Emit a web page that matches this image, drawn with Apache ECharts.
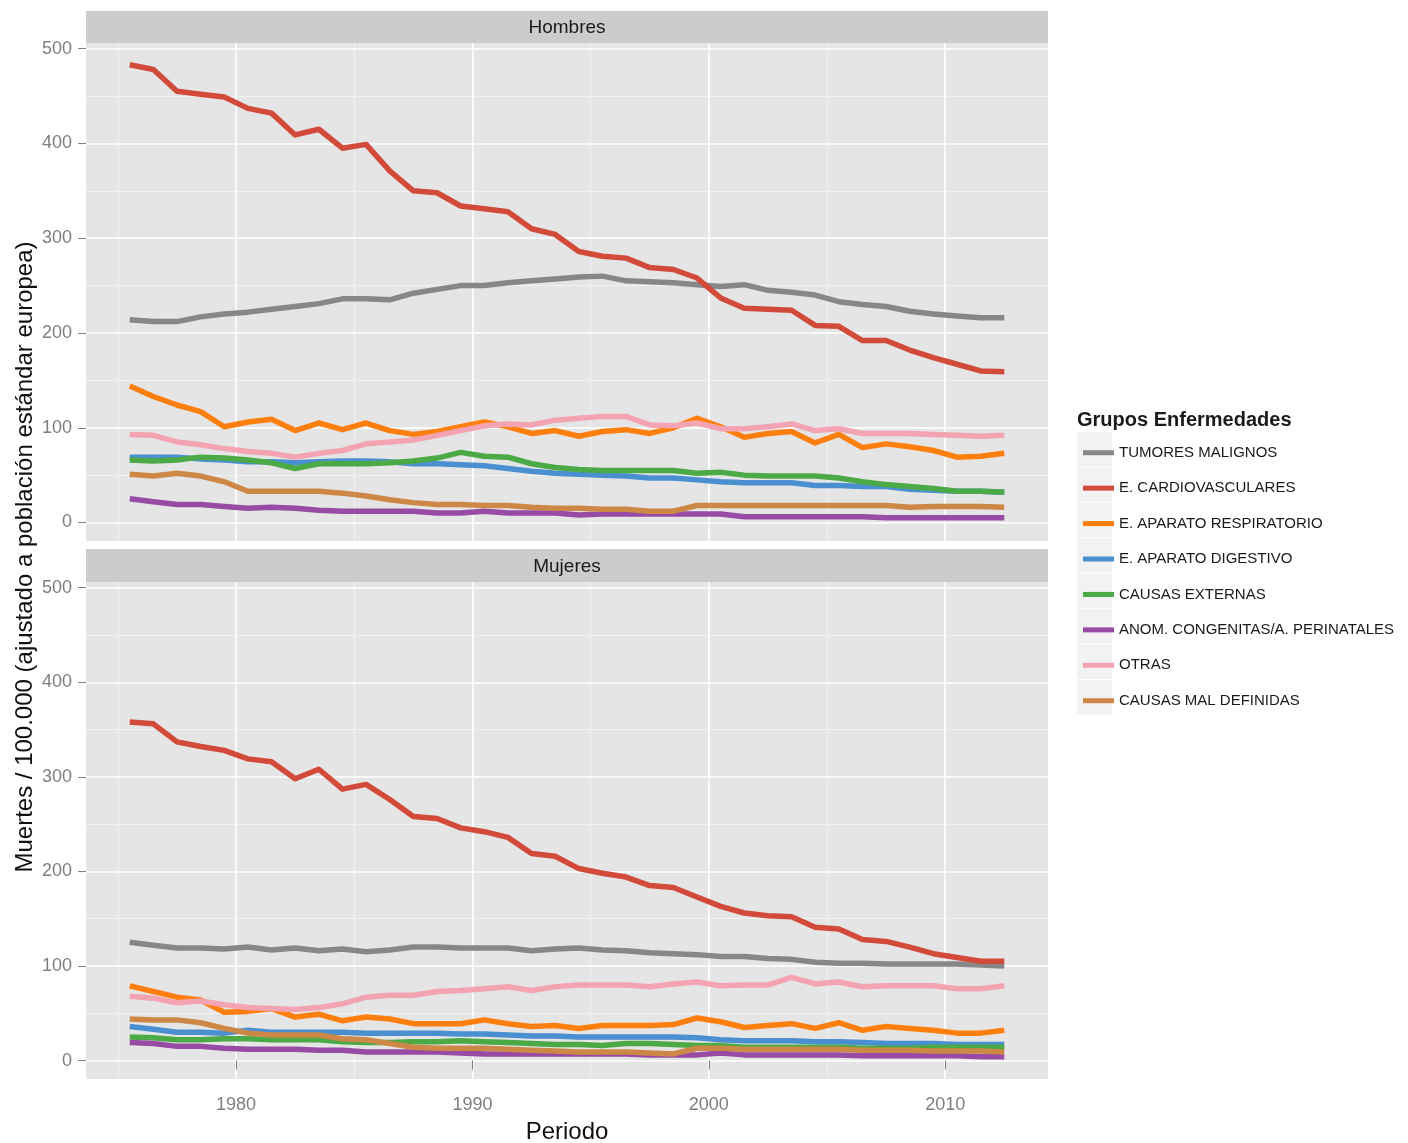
<!DOCTYPE html>
<html>
<head>
<meta charset="utf-8">
<title>Mortalidad por grupos de enfermedades</title>
<script src="https://cdn.jsdelivr.net/npm/echarts@6/dist/echarts.min.js"></script>
<style>
  html, body { margin: 0; padding: 0; background: #ffffff; }
  #chart { width: 1408px; height: 1143px; }
</style>
</head>
<body>
<div id="chart"></div>
<script>
// ---- data -------------------------------------------------------------
const years = [1975,1976,1977,1978,1979,1980,1981,1982,1983,1984,1985,1986,1987,1988,1989,
  1990,1991,1992,1993,1994,1995,1996,1997,1998,1999,2000,2001,2002,2003,2004,2005,2006,
  2007,2008,2009,2010,2011,2012];

const groups = ['TUMORES MALIGNOS', 'E. CARDIOVASCULARES', 'E. APARATO RESPIRATORIO',
  'E. APARATO DIGESTIVO', 'CAUSAS EXTERNAS', 'ANOM. CONGENITAS/A. PERINATALES',
  'OTRAS', 'CAUSAS MAL DEFINIDAS'];

const panels = ['Hombres', 'Mujeres'];

// Hombres
const hTumores = [214,212,212,217,220,222,225,228,231,236,236,235,242,246,250,250,253,255,257,259,260,255,254,253,251,249,251,245,243,240,233,230,228,223,220,218,216,216];
const hCardio = [483,478,455,452,449,437,432,409,415,395,399,371,350,348,334,331,328,310,304,286,281,279,269,267,258,237,226,225,224,208,207,192,192,182,174,167,160,159];
const hRespir = [144,133,124,117,101,106,109,97,105,98,105,97,93,96,101,106,101,94,97,91,96,98,94,100,110,101,90,94,96,84,93,79,83,80,76,69,70,73];
const hDigest = [69,69,69,67,66,64,64,63,64,65,65,64,62,62,61,60,57,54,52,51,50,49,47,47,45,43,42,42,42,39,39,38,38,35,34,33,33,32];
const hExtern = [66,65,66,69,68,66,63,57,62,62,62,63,65,68,74,70,69,62,58,56,55,55,55,55,52,53,50,49,49,49,47,43,40,38,36,33,33,32];
const hAnom = [25,22,19,19,17,15,16,15,13,12,12,12,12,10,10,12,10,10,10,8,9,9,9,9,9,9,6,6,6,6,6,6,5,5,5,5,5,5];
const hOtras = [93,92,85,82,78,75,73,69,73,76,83,85,87,92,97,102,104,103,108,110,112,112,103,102,105,99,99,101,104,97,99,94,94,94,93,92,91,92];
const hMalDef = [51,49,52,49,43,33,33,33,33,31,28,24,21,19,19,18,18,16,15,15,14,14,12,12,18,18,18,18,18,18,18,18,18,16,17,17,17,16];

// Mujeres
const mTumores = [125,122,119,119,118,120,117,119,116,118,115,117,120,120,119,119,119,116,118,119,117,116,114,113,112,110,110,108,107,104,103,103,102,102,102,102,101,100];
const mCardio = [358,356,337,332,328,319,316,298,308,287,292,276,258,256,246,242,236,219,216,203,198,194,185,183,173,163,156,153,152,141,139,128,126,120,113,109,105,105];
const mRespir = [79,73,67,64,51,52,55,46,49,42,46,44,39,39,39,43,39,36,37,34,37,37,37,38,45,41,35,37,39,34,40,32,36,34,32,29,29,32];
const mDigest = [36,33,30,30,29,32,30,30,30,30,29,29,29,29,28,28,27,26,26,25,25,25,25,25,24,22,21,21,21,20,20,19,18,18,18,17,17,17];
const mExtern = [25,24,22,22,23,23,22,22,22,20,19,19,20,20,21,20,19,18,17,17,16,18,18,17,16,16,14,14,14,14,14,13,13,13,14,14,14,14];
const mAnom = [19,18,15,15,13,12,12,12,11,11,9,9,9,9,8,7,7,7,7,7,7,7,6,6,6,8,6,6,6,6,6,5,5,5,5,5,4,4];
const mOtras = [68,66,61,63,59,56,55,54,56,60,67,69,69,73,74,76,78,74,78,80,80,80,78,81,83,79,80,80,88,81,83,78,79,79,79,76,76,79];
const mMalDef = [44,43,43,40,34,29,27,27,27,23,22,18,14,13,13,13,12,11,10,9,9,9,8,7,13,13,12,12,12,12,12,11,11,11,10,10,10,9];

// axis breaks
const yBreaks = [0, 100, 200, 300, 400, 500];
const yMinorBreaks = [50, 150, 250, 350, 450];
const xBreaks = [1980, 1990, 2000, 2010];
const xMinorBreaks = [1975, 1985, 1995, 2005];

// ---- styling ----------------------------------------------------------
const palette = ['#878787', '#d24a3a', '#ff7f0e', '#4a8fd0', '#4baa46', '#984ba5', '#f4a3b3', '#cd8746'];
const FONT = 'Liberation Sans, Arial, sans-serif';
const panelSeries = [
  [hTumores, hCardio, hRespir, hDigest, hExtern, hAnom, hOtras, hMalDef],
  [mTumores, mCardio, mRespir, mDigest, mExtern, mAnom, mOtras, mMalDef]
];

// each year is plotted at its midpoint; 5% padding on both ends
const SPAN = years[years.length - 1] - years[0];
const X_MIN = years[0] + 0.5 - SPAN * 0.05;
const X_MAX = years[years.length - 1] + 0.5 + SPAN * 0.05;
const Y_MIN = -19.5;
const Y_MAX = 506;

const gridBoxes = [
  { left: 86, top: 43, width: 962, height: 498 },
  { left: 86, top: 582, width: 962, height: 497 }
];
const stripBoxes = [
  { y: 11, h: 32 },
  { y: 549, h: 33 }
];

const grids = gridBoxes.map(b => ({
  left: b.left, top: b.top, width: b.width, height: b.height,
  outerBoundsMode: 'none', containLabel: false,
  show: true, backgroundColor: '#e5e5e5', borderWidth: 0
}));

const plain = v => String(v);

const xAxes = [];
const yAxes = [];
panels.forEach((p, gi) => {
  const bottom = gi === panels.length - 1;
  // minor x grid
  xAxes.push({
    type: 'value', gridIndex: gi, position: 'bottom', min: X_MIN, max: X_MAX, z: 0,
    axisLine: { show: false }, axisLabel: { show: false },
    axisTick: { show: false, customValues: xMinorBreaks },
    splitLine: { show: true, lineStyle: { color: '#f2f2f2', width: 1 } }
  });
  // major x grid (labels on the bottom panel only)
  xAxes.push({
    type: 'value', gridIndex: gi, position: 'bottom', min: X_MIN, max: X_MAX, z: 1,
    axisLine: { show: false },
    axisTick: { show: bottom, customValues: xBreaks, length: 9, lineStyle: { color: '#7f7f7f', width: 1 } },
    axisLabel: { show: bottom, customValues: xBreaks, formatter: plain, color: '#7f7f7f', fontSize: 18, fontFamily: FONT, margin: 17 },
    splitLine: { show: true, lineStyle: { color: '#ffffff', width: 1.6 } },
    name: bottom ? 'Periodo' : '', nameLocation: 'middle', nameGap: 41,
    nameTextStyle: { fontSize: 24, fontFamily: FONT, color: '#111111' }
  });
  // minor y grid
  yAxes.push({
    type: 'value', gridIndex: gi, position: 'left', min: Y_MIN, max: Y_MAX, z: 0,
    axisLine: { show: false }, axisLabel: { show: false },
    axisTick: { show: false, customValues: yMinorBreaks },
    splitLine: { show: true, lineStyle: { color: '#f2f2f2', width: 1 } }
  });
  // major y grid
  yAxes.push({
    type: 'value', gridIndex: gi, position: 'left', min: Y_MIN, max: Y_MAX, z: 1,
    axisLine: { show: false },
    axisTick: { show: true, customValues: yBreaks, length: 8, lineStyle: { color: '#7f7f7f', width: 1 } },
    axisLabel: { show: true, customValues: yBreaks, formatter: plain, color: '#7f7f7f', fontSize: 18, fontFamily: FONT, margin: 14 },
    splitLine: { show: true, lineStyle: { color: '#ffffff', width: 1.6 } }
  });
});

const series = [];
panels.forEach((p, gi) => {
  groups.forEach((g, si) => {
    series.push({
      name: g,
      type: 'line',
      xAxisIndex: gi * 2 + 1,
      yAxisIndex: gi * 2 + 1,
      showSymbol: false,
      symbol: 'none',
      silent: true,
      z: 3,
      color: palette[si],
      lineStyle: { width: 5.5, color: palette[si], join: 'round', cap: 'butt' },
      emphasis: { disabled: true },
      data: years.map((yr, i) => [yr + 0.5, panelSeries[gi][si][i]])
    });
  });
});

// strips, legend key backgrounds and free-standing titles
const LEG_TOP = 432, LEG_STEP = 35.43;
const graphics = [];
stripBoxes.forEach((s, i) => {
  graphics.push({
    type: 'rect', silent: true,
    shape: { x: gridBoxes[i].left, y: s.y, width: gridBoxes[i].width, height: s.h },
    style: { fill: '#cccccc' }
  });
  graphics.push({
    type: 'text', silent: true,
    x: gridBoxes[i].left + gridBoxes[i].width / 2, y: s.y + s.h / 2 + 1,
    style: { text: panels[i], fill: '#1a1a1a', font: '19px ' + FONT, align: 'center', verticalAlign: 'middle' }
  });
});
groups.forEach((g, i) => {
  graphics.push({
    type: 'rect', silent: true, z: -1,
    shape: { x: 1077, y: LEG_TOP + i * LEG_STEP, width: 35, height: LEG_STEP - 1 },
    style: { fill: '#f2f2f2' }
  });
});
graphics.push({
  type: 'text', silent: true,
  x: 1077, y: 420,
  style: { text: 'Grupos Enfermedades', fill: '#1a1a1a', font: 'bold 20px ' + FONT, align: 'left', verticalAlign: 'middle' }
});
graphics.push({
  type: 'text', silent: true,
  x: 25, y: 557, rotation: Math.PI / 2,
  style: { text: 'Muertes / 100.000 (ajustado a población estándar europea)', fill: '#111111',
           font: '24px ' + FONT, align: 'center', verticalAlign: 'middle' }
});

const chart = echarts.init(document.getElementById('chart'), null, { renderer: 'canvas' });
chart.setOption({
  animation: false,
  backgroundColor: '#ffffff',
  textStyle: { fontFamily: FONT },
  grid: grids,
  xAxis: xAxes,
  yAxis: yAxes,
  legend: {
    orient: 'vertical',
    left: 1078, top: LEG_TOP + LEG_STEP / 2 - 10,
    data: groups,
    icon: 'rect',
    itemWidth: 31, itemHeight: 5,
    itemGap: LEG_STEP - 16,
    selectedMode: false,
    textStyle: { fontSize: 15, lineHeight: 16, fontFamily: FONT, color: '#1a1a1a' }
  },
  graphic: graphics,
  series: series
});
</script>
</body>
</html>
